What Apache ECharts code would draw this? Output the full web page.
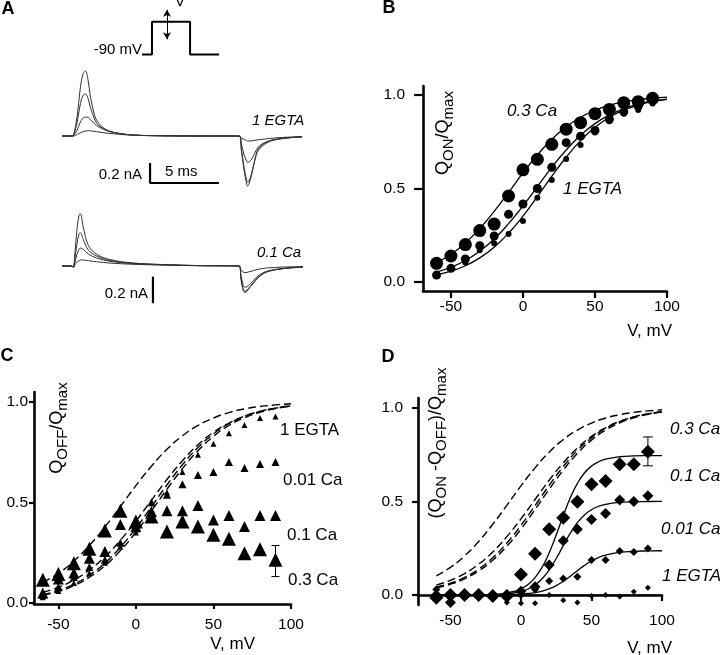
<!DOCTYPE html>
<html><head><meta charset="utf-8">
<script src="https://cdn.jsdelivr.net/npm/echarts@6/dist/echarts.min.js"></script>
<style>html,body{margin:0;padding:0;background:#fff}#c{width:720px;height:655px}</style>
</head><body><div id="c"></div>
<script>
// ---------- DATA ----------
// Panel A: voltage protocol (ms, mV)
const protoT  = [5.8, 6.52, 6.52, 9.28, 9.28, 11.38];
const protoMv = [-90, -90, -30, -30, -90, -90];
const arrowT = 7.61, arrowMv = [-8, -62];
// Panel A: charge-movement currents, 1 EGTA (ms, nA)
const tEgta = [0,0.75,0.85,1.1,1.3,1.5,1.7,1.9,2.05,2.3,2.5,2.9,3.35,4.1,5.1,6.5,10,12.83,13.0,13.2,13.38,13.45,13.55,13.75,14.0,14.22,14.7,15.4,16.6,17.4];
const egta1 = [0,0,0.01,0.2,0.45,0.61,0.65,0.55,0.40,0.24,0.16,0.093,0.053,0.027,0.01,0.004,0,0,-0.15,-0.35,-0.48,-0.50,-0.48,-0.38,-0.22,-0.13,-0.07,-0.035,-0.015,-0.01];
const egta2 = [0,0,0.01,0.14,0.30,0.40,0.42,0.37,0.29,0.19,0.13,0.08,0.048,0.025,0.01,0.004,0,0,-0.13,-0.32,-0.44,-0.46,-0.45,-0.37,-0.23,-0.145,-0.08,-0.04,-0.017,-0.01];
const egta3 = [0,0,0.005,0.06,0.13,0.175,0.19,0.185,0.165,0.13,0.105,0.075,0.05,0.027,0.01,0.004,0,0,-0.08,-0.19,-0.25,-0.265,-0.26,-0.23,-0.16,-0.11,-0.065,-0.035,-0.015,-0.008];
const egta4 = [0,0,0,0.015,0.03,0.042,0.05,0.053,0.052,0.048,0.043,0.035,0.027,0.017,0.008,0.003,0,0,-0.02,-0.035,-0.045,-0.05,-0.05,-0.048,-0.043,-0.038,-0.03,-0.02,-0.01,-0.005];
// Panel A: 0.1 Ca
const tCa = [0,0.72,0.82,0.94,1.09,1.23,1.33,1.54,1.91,2.51,3.48,5.14,7.59,10,12.83,12.97,13.12,13.26,13.41,13.62,13.86,14.2,14.83,16.01,17.46];
const ca1 = [0,0,-0.01,0.1,0.28,0.38,0.393,0.293,0.155,0.088,0.048,0.023,0.01,0.003,0,-0.1,-0.18,-0.20,-0.19,-0.16,-0.133,-0.09,-0.045,-0.02,-0.008];
const ca2 = [0,0,-0.01,0.06,0.17,0.24,0.25,0.2,0.12,0.075,0.042,0.02,0.009,0.003,0,-0.09,-0.17,-0.19,-0.18,-0.155,-0.125,-0.085,-0.045,-0.02,-0.008];
const ca3 = [0,0,-0.01,0.03,0.09,0.125,0.135,0.125,0.09,0.06,0.035,0.018,0.008,0.003,0,-0.07,-0.14,-0.16,-0.155,-0.135,-0.11,-0.075,-0.04,-0.018,-0.007];
const ca4 = [0,0,-0.01,0.01,0.03,0.04,0.045,0.045,0.04,0.032,0.022,0.013,0.006,0.002,0,-0.03,-0.045,-0.05,-0.048,-0.042,-0.035,-0.025,-0.015,-0.008,-0.004];
// scale bars (ms, nA)
const barEgta = [[6.38,-0.27],[6.38,-0.47],[11.38,-0.47]];
const barCa   = [[6.59,-0.08],[6.59,-0.28]];

// Panels B-D: test voltages (mV)
const V = [-60,-50,-40,-30,-20,-10,0,10,20,30,40,50,60,70,80,90];
// B: QON/Qmax
const bCa03 = [0.10,0.139,0.20,0.275,0.31,0.46,0.60,0.656,0.736,0.817,0.852,0.90,0.923,0.959,0.964,0.982];
const bMid  = [0.037,0.073,0.123,0.194,0.246,0.362,0.417,0.50,0.613,0.745,0.78,0.81,0.87,0.91,0.94,0.97];
const bEgta = [0.04,0.07,0.105,0.17,0.207,0.257,0.326,0.45,0.545,0.658,0.733,0.80,0.86,0.90,0.92,0.955];
// Boltzmann fits
const fitV     = [-60,-50,-40,-30,-20,-10,0,10,20,30,40,50,60,70,80,90,100];
const fitCa03  = [0.103,0.148,0.209,0.286,0.378,0.479,0.583,0.679,0.763,0.830,0.881,0.918,0.945,0.963,0.975,0.983,0.989];
const fitCa01  = [0.053,0.079,0.115,0.165,0.230,0.312,0.407,0.510,0.613,0.706,0.785,0.847,0.893,0.927,0.951,0.967,0.978];
const fitCa001 = [0.042,0.063,0.094,0.139,0.199,0.278,0.372,0.478,0.586,0.686,0.772,0.839,0.890,0.926,0.951,0.967,0.979];
const fitEgta  = [0.039,0.058,0.087,0.129,0.186,0.261,0.352,0.457,0.565,0.667,0.756,0.827,0.881,0.919,0.946,0.965,0.977];
// C: QOFF/Qmax
const cCa03  = [0.116,0.145,0.198,0.27,0.36,0.458,0.405,0.43,0.355,0.405,0.38,0.339,0.319,0.248,0.268,0.215];
const cCa01  = [0.05,0.12,0.15,0.223,0.256,0.39,0.38,0.455,0.458,0.458,0.484,0.413,0.435,0.38,0.435,0.435];
const cCa001 = [0.04,0.08,0.13,0.18,0.215,0.30,0.37,0.50,0.537,0.59,0.636,0.65,0.70,0.67,0.69,0.70];
const cEgta  = [0.03,0.06,0.10,0.15,0.20,0.28,0.35,0.45,0.55,0.65,0.736,0.79,0.843,0.884,0.918,0.926];
const cErr   = [[90,0.132,0.286]];
// D: (QON-QOFF)/Qmax
const dCa03  = [-0.014,0.0,0.0,0.0,-0.005,-0.005,0.11,0.22,0.352,0.413,0.498,0.591,0.609,0.698,0.698,0.765];
const dCa01  = [0.0,-0.04,0.0,0.0,0.0,0.0,0.02,0.045,0.16,0.29,0.352,0.404,0.436,0.507,0.50,0.53];
const dCa001 = [0.03,0.0,0.0,-0.01,0.0,0.0,0.0,0.03,0.075,0.089,0.098,0.187,0.187,0.235,0.23,0.249];
const dEgta  = [0.03,-0.01,0.0,0.0,0.0,-0.04,-0.044,-0.044,0.0,-0.027,-0.039,-0.005,0.0,-0.007,0.018,0.039];
const dErr   = [[90,0.69,0.844]];
const dFitV    = [-60,-40,-20,-10,-5,0,5,10,15,20,25,30,35,40,45,50,55,60,70,80,90,100];
const dFitCa03 = [0.0,0.0004,0.0038,0.0114,0.0196,0.0336,0.0565,0.0932,0.1487,0.2258,0.3211,0.424,0.5193,0.5963,0.6517,0.6885,0.7115,0.7254,0.7384,0.7428,0.7443,0.7447];
const dFitCa01 = [0.0,0.0002,0.0022,0.0065,0.0112,0.0192,0.0325,0.054,0.0871,0.1345,0.1953,0.2638,0.3304,0.3862,0.4277,0.4558,0.4737,0.4845,0.4948,0.4983,0.4994,0.4998];
const dFitCa001= [0.0,0.0001,0.0007,0.0019,0.0032,0.0052,0.0084,0.0136,0.0216,0.0336,0.0507,0.0735,0.1009,0.1303,0.1584,0.1821,0.2004,0.2134,0.2277,0.2335,0.2357,0.2365];
const dFitEgtaV = [-60,100];
const dFitEgta  = [0,0];
// tick values
const xTicks = [-50,0,50,100];
const yTicks = [0,0.5,1.0];

// ---------- CHART ----------
const FONT = 'Liberation Sans, Arial, Helvetica, sans-serif';
const xy = (xs, ys) => xs.map((x,i)=>[x, ys[i]]);

function hiddenAxis(gi, min, max){ return {type:'value', gridIndex:gi, min, max, show:false}; }
function shownAxis(gi, min, max, ticks, tickLen, margin, onZero){
  return {type:'value', gridIndex:gi, min, max,
    splitLine:{show:false},
    axisLine:{show:true, onZero:onZero, lineStyle:{color:'#000', width:2.6, opacity:1}},
    axisTick:{show:true, length:tickLen, customValues:ticks, lineStyle:{color:'#000', width:2.2, opacity:1}},
    axisLabel:{show:true, customValues:ticks, margin, color:'#000', fontSize:15.5, fontFamily:FONT,
      formatter: v => (ticks===yTicks ? Number(v).toFixed(1) : String(v))}
  };
}
function fit(xs, ys, ai, dashed){
  return {type:'line', xAxisIndex:ai, yAxisIndex:ai, data:xy(xs,ys), smooth:true, symbol:'none',
    lineStyle:{color:'#000', width:dashed ? 1.4 : 1.3, type: dashed ? [8,4] : 'solid', opacity:1},
    silent:true, z:2, animation:false};
}
function pts(ys, ai, sym, size){
  return {type:'scatter', xAxisIndex:ai, yAxisIndex:ai, data:xy(V,ys), symbol:sym, symbolSize:size,
    itemStyle:{color:'#000', opacity:1, borderWidth:0}, silent:true, z:3, animation:false};
}
function trace(ts, ys, ai){
  return {type:'line', xAxisIndex:ai, yAxisIndex:ai, data:xy(ts,ys), smooth:0.35, symbol:'none',
    lineStyle:{color:'#333', width:1}, silent:true, animation:false};
}
function bar(d, ai){
  return {type:'line', xAxisIndex:ai, yAxisIndex:ai, data:d, symbol:'none',
    lineStyle:{color:'#000', width:2.2}, silent:true, animation:false};
}
function errBar(d, ai, w){
  return {type:'custom', xAxisIndex:ai, yAxisIndex:ai, data:d, silent:true, z:4, animation:false,
    encode:{x:0, y:[1,2]},
    renderItem(params, api){
      const x = api.value(0);
      const p1 = api.coord([x, api.value(1)]), p2 = api.coord([x, api.value(2)]);
      const st = {stroke:'#000', lineWidth:1};
      return {type:'group', children:[
        {type:'line', shape:{x1:p1[0], y1:p1[1], x2:p2[0], y2:p2[1]}, style:st},
        {type:'line', shape:{x1:p1[0]-w, y1:p1[1], x2:p1[0]+w, y2:p1[1]}, style:st},
        {type:'line', shape:{x1:p2[0]-w, y1:p2[1], x2:p2[0]+w, y2:p2[1]}, style:st}
      ]};
    }};
}
function txt(x, y, text, size, align, opts){
  return {type:'text', x, y, silent:true,
    style:Object.assign({text, fill:'#000', fontSize:size, fontFamily:FONT, align, verticalAlign:'middle'}, opts||{})};
}
function ylab(x, y, text){
  return {type:'text', x, y, rotation:Math.PI/2, silent:true,
    style:{text, fill:'#000', align:'center', verticalAlign:'middle',
      rich:{
        n:{fontSize:18, fontFamily:FONT, lineHeight:26, verticalAlign:'middle', fill:'#000'},
        s:{fontSize:15, fontFamily:FONT, lineHeight:15, verticalAlign:'bottom', fill:'#000'}
      }}};
}

const grids = [
  {left:62, top:0,   width:241.5, height:60},   // 0 protocol
  {left:62, top:60,  width:241.5, height:140},  // 1 traces 1 EGTA
  {left:62, top:200, width:241.5, height:120},  // 2 traces 0.1 Ca
  {left:423, top:86,  width:244, height:205},   // 3 B
  {left:34,  top:392, width:257, height:212},   // 4 C
  {left:418, top:398, width:244, height:207}    // 5 D
].map(g => Object.assign(g, {outerBoundsMode:'none', containLabel:false}));

const xAxis = [
  hiddenAxis(0, 0, 17.5), hiddenAxis(1, 0, 17.5), hiddenAxis(2, 0, 17.5),
  shownAxis(3, -69.4, 100, xTicks, 7, 8, false),
  shownAxis(4, -65.7, 100, xTicks, 5, 13, false),
  shownAxis(5, -73, 100, xTicks, 6, 8, true)
];
const yAxis = [
  hiddenAxis(0, -100, 10), hiddenAxis(1, -0.64, 0.76), hiddenAxis(2, -0.406, 0.4962),
  shownAxis(3, -0.048, 1.048, yTicks, 9, 18, false),
  shownAxis(4, -0.004, 1.047, yTicks, 5, 6, false),
  shownAxis(5, -0.053, 1.052, yTicks, 6, 15, false)
];

const series = [
  {type:'line', xAxisIndex:0, yAxisIndex:0, data:xy(protoT, protoMv), symbol:'none',
   lineStyle:{color:'#000', width:2}, silent:true, animation:false,
   markLine:{silent:true, animation:false, symbol:['arrow','arrow'], symbolSize:[6,7],
     label:{show:false}, lineStyle:{color:'#000', width:1, type:'solid'},
     data:[[{coord:[arrowT, arrowMv[0]]},{coord:[arrowT, arrowMv[1]]}]]}},
  trace(tEgta, egta1, 1), trace(tEgta, egta2, 1), trace(tEgta, egta3, 1), trace(tEgta, egta4, 1),
  bar(barEgta, 1),
  trace(tCa, ca1, 2), trace(tCa, ca2, 2), trace(tCa, ca3, 2), trace(tCa, ca4, 2),
  bar(barCa, 2),
  // B
  fit(fitV, fitCa03, 3), fit(fitV, fitCa01, 3), fit(fitV, fitEgta, 3),
  pts(bCa03, 3, 'circle', 13), pts(bMid, 3, 'circle', 9), pts(bEgta, 3, 'circle', 6),
  // C
  fit(fitV, fitCa03, 4, true), fit(fitV, fitCa01, 4, true), fit(fitV, fitCa001, 4, true), fit(fitV, fitEgta, 4, true),
  pts(cCa03, 4, 'triangle', 14), pts(cCa01, 4, 'triangle', 11), pts(cCa001, 4, 'triangle', 8), pts(cEgta, 4, 'triangle', 6),
  errBar(cErr, 4, 4),
  // D
  fit(fitV, fitCa03, 5, true), fit(fitV, fitCa01, 5, true), fit(fitV, fitCa001, 5, true), fit(fitV, fitEgta, 5, true),
  fit(dFitV, dFitCa03, 5), fit(dFitV, dFitCa01, 5), fit(dFitV, dFitCa001, 5), fit(dFitEgtaV, dFitEgta, 5),
  pts(dCa03, 5, 'diamond', 14), pts(dCa01, 5, 'diamond', 11), pts(dCa001, 5, 'diamond', 8), pts(dEgta, 5, 'diamond', 6),
  errBar(dErr, 5, 5)
];

const IT = {fontStyle:'italic'};
const BOLD = {fontWeight:'bold'};
const graphic = [
  txt(8, 9, 'A', 18, 'center', BOLD), txt(389, 8, 'B', 18, 'center', BOLD),
  txt(7, 356, 'C', 18, 'center', BOLD), txt(388, 357, 'D', 18, 'center', BOLD),
  // A
  txt(180, 2, 'V', 15, 'center'),
  txt(142, 50, '-90 mV', 15, 'right'),
  txt(252, 121, '1 EGTA', 15, 'left', IT),
  txt(142, 175, '0.2 nA', 15, 'right'),
  txt(165, 172, '5 ms', 15, 'left'),
  txt(257, 252.5, '0.1 Ca', 15, 'left', IT),
  txt(148, 294, '0.2 nA', 15, 'right'),
  // B
  txt(507, 111, '0.3 Ca', 17, 'left', IT),
  txt(563, 189, '1 EGTA', 17, 'left', IT),
  txt(672, 331, 'V, mV', 17, 'right'),
  ylab(443, 133, '{n|Q}{s|ON}{n|/Q}{s|max}'),
  // C
  txt(280, 430, '1 EGTA', 17, 'left'),
  txt(283, 480, '0.01 Ca', 17, 'left'),
  txt(287, 535, '0.1 Ca', 17, 'left'),
  txt(288, 580, '0.3 Ca', 17, 'left'),
  txt(255, 644.5, 'V, mV', 17, 'right'),
  ylab(57, 428, '{n|Q}{s|OFF}{n|/Q}{s|max}'),
  // D
  txt(670, 429, '0.3 Ca', 17, 'left', IT),
  txt(670, 476, '0.1 Ca', 17, 'left', IT),
  txt(661, 529, '0.01 Ca', 17, 'left', IT),
  txt(662, 576, '1 EGTA', 17, 'left', IT),
  txt(672, 648, 'V, mV', 17, 'right'),
  ylab(436, 443, '{n|(Q}{s|ON}{n| -Q}{s|OFF}{n|)/Q}{s|max}')
];

const chart = echarts.init(document.getElementById('c'), null, {renderer:'canvas', width:720, height:655});
chart.setOption({animation:false, backgroundColor:'#fff', grid:grids, xAxis, yAxis, series, graphic});
</script></body></html>
